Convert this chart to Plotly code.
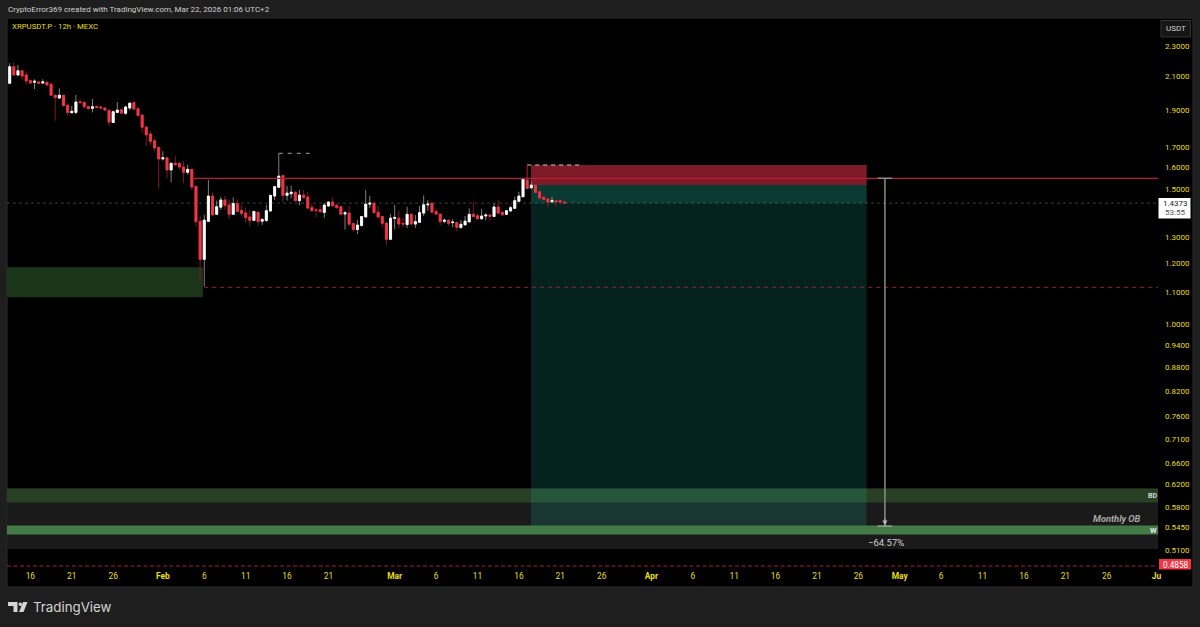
import pandas as pd
import plotly.graph_objects as go

opens = [2.056,2.161,2.108,2.135,2.108,2.073,2.063,2.065,2.058,2.063,2.050,1.984,1.968,1.984,1.925,1.883,1.885,1.946,1.943,1.919,
1.908,1.919,1.916,1.910,1.897,1.829,1.885,1.900,1.880,1.910,1.941,1.906,1.870,1.804,1.767,1.732,1.698,1.640,1.646,1.587,
1.619,1.619,1.601,1.576,1.590,1.511,1.361,1.215,1.361,1.468,1.390,1.420,1.451,1.429,1.390,1.436,1.406,1.396,1.379,1.365,
1.399,1.362,1.365,1.404,1.468,1.507,1.561,1.471,1.478,1.485,1.448,1.472,1.464,1.419,1.409,1.409,1.398,1.425,1.442,1.428,
1.422,1.391,1.395,1.352,1.328,1.344,1.379,1.433,1.437,1.399,1.381,1.354,1.290,1.373,1.374,1.353,1.348,1.390,1.350,1.357,
1.395,1.430,1.437,1.402,1.391,1.361,1.366,1.356,1.357,1.336,1.347,1.359,1.390,1.384,1.372,1.383,1.387,1.381,1.421,1.398,
1.390,1.404,1.415,1.445,1.465,1.540,1.505,1.517,1.487,1.463,1.455,1.443,1.448,1.448,1.442]
highs = [2.183,2.189,2.172,2.140,2.129,2.081,2.081,2.067,2.081,2.067,2.063,1.984,2.025,1.984,1.937,1.921,1.986,1.962,1.946,1.921,
1.962,1.925,1.921,1.914,1.898,1.895,1.944,1.906,1.923,1.944,1.943,1.908,1.870,1.808,1.781,1.746,1.698,1.678,1.648,1.622,
1.654,1.624,1.630,1.611,1.592,1.511,1.384,1.387,1.540,1.484,1.448,1.465,1.468,1.453,1.462,1.453,1.428,1.419,1.408,1.405,
1.399,1.373,1.429,1.473,1.511,1.668,1.562,1.513,1.514,1.489,1.495,1.495,1.487,1.436,1.416,1.428,1.439,1.445,1.462,1.432,
1.423,1.405,1.425,1.353,1.366,1.383,1.495,1.468,1.440,1.425,1.381,1.357,1.391,1.430,1.405,1.377,1.422,1.394,1.387,1.425,
1.471,1.450,1.440,1.415,1.392,1.373,1.369,1.370,1.359,1.366,1.383,1.415,1.442,1.391,1.412,1.394,1.391,1.436,1.450,1.404,
1.408,1.425,1.465,1.487,1.549,1.543,1.537,1.540,1.495,1.480,1.465,1.465,1.450,1.450,1.445]
lows = [2.052,2.102,2.102,2.077,2.052,2.054,2.021,2.052,2.050,2.042,1.982,1.839,1.962,1.919,1.867,1.880,1.874,1.937,1.902,1.902,
1.885,1.910,1.906,1.891,1.810,1.828,1.883,1.878,1.871,1.898,1.902,1.865,1.774,1.706,1.708,1.678,1.501,1.632,1.549,1.529,
1.609,1.590,1.525,1.565,1.495,1.343,1.141,1.120,1.359,1.384,1.388,1.408,1.409,1.372,1.388,1.399,1.384,1.355,1.342,1.363,
1.342,1.347,1.358,1.402,1.451,1.505,1.442,1.448,1.458,1.445,1.428,1.456,1.413,1.402,1.377,1.398,1.375,1.422,1.425,1.414,
1.387,1.328,1.346,1.320,1.310,1.341,1.377,1.416,1.392,1.377,1.337,1.269,1.288,1.329,1.334,1.337,1.334,1.348,1.335,1.356,
1.383,1.405,1.395,1.388,1.345,1.353,1.342,1.338,1.321,1.332,1.345,1.358,1.377,1.369,1.366,1.366,1.364,1.380,1.392,1.384,
1.387,1.402,1.413,1.443,1.464,1.499,1.499,1.481,1.456,1.450,1.419,1.439,1.422,1.429,1.433]
closes = [2.161,2.108,2.135,2.102,2.071,2.058,2.069,2.056,2.065,2.046,1.984,1.970,1.984,1.923,1.885,1.891,1.944,1.941,1.917,1.906,
1.917,1.914,1.910,1.898,1.831,1.889,1.898,1.881,1.916,1.937,1.904,1.867,1.803,1.763,1.729,1.695,1.640,1.646,1.587,1.619,
1.612,1.601,1.576,1.590,1.508,1.360,1.215,1.366,1.468,1.388,1.422,1.451,1.428,1.390,1.436,1.402,1.394,1.376,1.365,1.402,
1.360,1.369,1.405,1.471,1.510,1.558,1.471,1.481,1.485,1.448,1.472,1.462,1.416,1.405,1.406,1.401,1.429,1.442,1.426,1.418,
1.390,1.397,1.349,1.328,1.346,1.381,1.433,1.437,1.397,1.379,1.353,1.290,1.374,1.377,1.350,1.350,1.390,1.350,1.360,1.397,
1.430,1.433,1.399,1.391,1.360,1.366,1.353,1.358,1.337,1.349,1.362,1.390,1.381,1.372,1.383,1.387,1.381,1.421,1.395,1.388,
1.405,1.418,1.448,1.468,1.543,1.502,1.517,1.484,1.459,1.453,1.442,1.449,1.443,1.443,1.4373]
first_candle = "2026-01-13 12:00"

price_ticks = [2.3,2.1,1.9,1.7,1.6,1.5,1.3,1.2,1.1,1.0,0.94,0.88,0.82,0.76,0.71,0.66,0.62,0.58,0.545,0.51]
date_ticks = ["2026-01-16","2026-01-21","2026-01-26","2026-02-01","2026-02-06","2026-02-11","2026-02-16","2026-02-21",
"2026-03-01","2026-03-06","2026-03-11","2026-03-16","2026-03-21","2026-03-26","2026-04-01","2026-04-06","2026-04-11",
"2026-04-16","2026-04-21","2026-04-26","2026-05-01","2026-05-06","2026-05-11","2026-05-16","2026-05-21","2026-05-26","2026-06-01"]
date_labels = ["16","21","26","<b>Feb</b>","6","11","16","21","<b>Mar</b>","6","11","16","21","26","<b>Apr</b>","6","11","16","21","26","<b>May</b>","6","11","16","21","26","<b>Ju</b>"]

last_price = 1.4373
level_line = 1.548
sweep_low = 1.1175
bottom_line = 0.4858
target = 0.5475

dates = pd.date_range(first_candle, periods=len(opens), freq="12h")
YELLOW = "#ecdf14"
FONT = "Roboto, Liberation Sans, sans-serif"
L, R, T, B = 7, 1158, 18, 570
W, H = 1200, 627
X_START, X_END = "2026-01-13 04:15", "2026-06-01 04:33"
def px(x): return (x - L) / (R - L)
def py(y): return (B - y) / (B - T)

fig = go.Figure()
fig.add_trace(go.Candlestick(x=dates, open=opens, high=highs, low=lows, close=closes,
    increasing=dict(line=dict(color="#7f7f7f", width=1), fillcolor="#7f7f7f"),
    decreasing=dict(line=dict(color="#7d1a28", width=1), fillcolor="#7d1a28"), showlegend=False, hoverinfo="skip"))
fig.add_trace(go.Candlestick(x=dates, open=opens, close=closes,
    high=[max(o, c) for o, c in zip(opens, closes)], low=[min(o, c) for o, c in zip(opens, closes)],
    increasing=dict(line=dict(color="#ffffff", width=0.8), fillcolor="#ffffff"),
    decreasing=dict(line=dict(color="#f23645", width=0.8), fillcolor="#f23645"), showlegend=False, hoverinfo="skip"))

def box(x0, x1, p0, p1, color, layer="below", xref="x"):
    return dict(type="rect", xref=xref, yref="y", x0=x0, x1=x1, y0=p0, y1=p1, fillcolor=color, line_width=0, layer=layer)
def hline(x0, x1, p0, p1, color, width=1, dash="solid", layer="above", xref="x"):
    return dict(type="line", xref=xref, yref="y", x0=x0, x1=x1, y0=p0, y1=p1, line=dict(color=color, width=width, dash=dash), layer=layer)

d_left = dates[47]
box_l, box_r = "2026-03-17 11:00", "2026-04-27 00:00"
arrow_x = "2026-04-29 05:00"
shapes = [
    dict(type="rect", xref="paper", yref="paper", x0=px(7), x1=px(1193), y0=py(587), y1=py(18),
         fillcolor="#000000", line=dict(color="#2d2d2d", width=1), layer="below"),
    box(0, 1, 0.5112, 0.6126, "#1a1a1a", xref="paper"),
    box(0, 1, 0.5874, 0.6126, "#2a4026", xref="paper"),
    box(0, 1, 0.5338, 0.5484, "#437a46", xref="paper"),
    box(dates[0] - pd.Timedelta(hours=9), d_left - pd.Timedelta(hours=4), 1.0847, 1.1865, "#1a3518"),
    box(box_l, box_r, target, 1.5172, "rgba(30,170,150,0.2)"),
    box(box_l, box_r, last_price, 1.5172, "rgba(30,170,150,0.18)"),
    box(box_l, box_r, 1.5172, 1.6107, "#7d1c28"),
    hline(0, 1, last_price, last_price, "#3c3c3c", 1, "dot", xref="paper", layer="below"),
    hline(dates[44], X_END, level_line, level_line, "#b81f30", 1.2),
    hline(dates[47], X_END, sweep_low, sweep_low, "#8e2433", 1, "4px,4px"),
    hline(0, 1, bottom_line, bottom_line, "#a32033", 1, "4px,2.5px", xref="paper"),
    hline(dates[65], "2026-02-18 21:00", 1.668, 1.668, "#a0a0a0", 1, "4px,5px"),
    hline(dates[125], "2026-03-23 08:00", 1.6107, 1.6107, "#c8c8c8", 1, "4px,4px"),
    hline(dates[125], dates[125], 1.548, 1.6107, "#b81f30", 1),
    hline(arrow_x, arrow_x, target, level_line, "#8c8c8c", 1.5),
    hline("2026-04-28 08:00", "2026-04-30 02:00", level_line, level_line, "#8c8c8c", 1.5),
    hline("2026-04-28 08:00", "2026-04-30 02:00", target, target, "#b8b8b8", 1),
    dict(type="path", xref="paper", yref="paper", fillcolor="#d4d4d4", line_width=0,
         path="M %f %f L %f %f L %f %f L %f %f L %f %f L %f %f Z" % (px(8),py(602),px(17.5),py(602),px(17.5),py(612),px(13.5),py(612),px(13.5),py(606),px(8),py(606))),
    dict(type="path", xref="paper", yref="paper", fillcolor="#d4d4d4", line_width=0,
         path="M %f %f L %f %f L %f %f L %f %f Z" % (px(23),py(602),px(27.5),py(602),px(23.5),py(612),px(19),py(612))),
    dict(type="circle", xref="paper", yref="paper", x0=px(18.5), x1=px(22), y0=py(606), y1=py(602.5), fillcolor="#d4d4d4", line_width=0),
    dict(type="rect", xref="paper", yref="paper", x0=px(1161), x1=px(1190.5), y0=py(37), y1=py(20.5),
         fillcolor="#161616", line=dict(color="#333333", width=1)),
    dict(type="rect", xref="paper", yref="paper", x0=px(1158.5), x1=px(1190.5), y0=py(218.5), y1=py(198),
         fillcolor="#ffffff", line_width=0),
    dict(type="rect", xref="paper", yref="paper", x0=px(1159), x1=px(1191), y0=py(569.5), y1=py(559),
         fillcolor="#f23645", line_width=0),
]

def note(x, y, text, size, color, anchor="left", **kw):
    return dict(xref="paper", yref="paper", x=px(x), y=py(y), text=text, showarrow=False, xanchor=anchor, yanchor="middle",
                font=dict(size=size, color=color, family=kw.pop("family", FONT)), **kw)

annotations = [
    note(7, 9.5, "CryptoError369 created with TradingView.com, Mar 22, 2026 01:06 UTC+2", 8, "#d0d0d0", xshift=-1),
    note(11, 27, "XRPUSDT.P · 12h · MEXC", 7.8, YELLOW, xshift=-1),
    note(1175.5, 29, "USDT", 8, "#d0d0d0", "center"),
    note(1175.5, 203.5, "1.4373", 8, "#222222", "center"),
    note(1175, 212.5, "53:55", 8, "#555555", "center"),
    note(1176, 564.5, "0.4858", 8.2, "#ffffff", "center"),
    note(1116.5, 518.5, "<b><i>Monthly OB</i></b>", 9.3, "#a8a8a8", "center"),
    note(1152, 496, "<b>BD</b>", 7, "#d8d8d8", "center"),
    note(1153, 530, "<b>W</b>", 7.5, "#e8e8e8", "center"),
    note(885.5, 542, "−64.57%", 9.5, "#d0d0d0", "center"),
    note(32, 607, "TradingView", 13.3, "#d4d4d4", family="Inter, Roboto, sans-serif", xshift=-1),
    dict(x=arrow_x, y=-0.2608, ax=arrow_x, ay=-0.25, xref="x", yref="y", axref="x", ayref="y", text="",
         showarrow=True, arrowhead=2, arrowsize=1, arrowwidth=1, arrowcolor="#b8b8b8"),
]

fig.update_layout(
    width=W, height=H, autosize=False,
    margin=dict(l=L, r=W - R, t=T, b=H - B, pad=0),
    paper_bgcolor="#1e1e1e", plot_bgcolor="#000000",
    shapes=shapes, annotations=annotations, showlegend=False,
    xaxis=dict(type="date", range=[X_START, X_END], rangeslider=dict(visible=False),
               showgrid=False, zeroline=False, showline=False, ticks="",
               tickmode="array", tickvals=date_ticks, ticktext=date_labels, tickangle=0,
               tickfont=dict(color=YELLOW, size=8.4, family=FONT)),
    yaxis=dict(type="log", side="right", range=[-0.31866, 0.39784], autorange=False, showgrid=False, zeroline=False, showline=False, ticks="",
               tickmode="array", tickvals=price_ticks, ticktext=["%.4f" % p for p in price_ticks],
               ticklabelstandoff=6, tickfont=dict(color=YELLOW, size=8, family=FONT)),
)
fig.write_html("out.html", config=dict(displayModeBar=False), post_script="document.body.style.margin='0';")
